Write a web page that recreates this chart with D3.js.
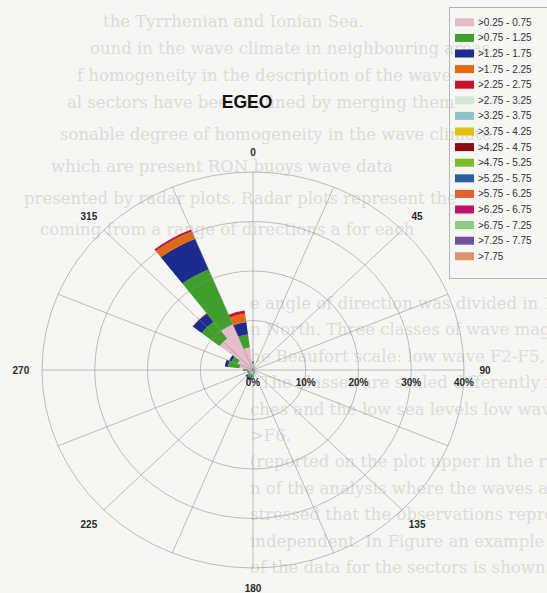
<!DOCTYPE html>
<html><head><meta charset="utf-8">
<script src="https://cdn.jsdelivr.net/npm/d3@7"></script>
<style>body{margin:0;background:#f6f6f4;}svg{display:block}</style>
</head><body>
<svg id="chart" width="547" height="593"></svg>
<script>
// ---- data ----
const directions = [0,15,30,45,60,75,90,105,120,135,150,165,180,195,210,225,240,255,270,285,300,315,330,345];
const classLabels = [">0.25 - 0.75",">0.75 - 1.25",">1.25 - 1.75",">1.75 - 2.25",">2.25 - 2.75",">2.75 - 3.25",">3.25 - 3.75",">3.75 - 4.25",">4.25 - 4.75",">4.75 - 5.25",">5.25 - 5.75",">5.75 - 6.25",">6.25 - 6.75",">6.75 - 7.25",">7.25 - 7.75",">7.75"];
const classColors = ["#e6bccb","#3f9f2a","#1c2b8c","#e2690f","#c7142c","#cfe9cf","#8fc3cb","#e6c10a","#8c0a14","#7cbc2a","#2d5f9e","#e0602e","#c2136c","#8ccb7c","#7052a2","#e0926e"];
// percentage of observations, per class, per direction (same order as directions)
const h050 = [1.2,0.6,0.4,0.3,0.3,0.3,0.3,0.3,0.3,0.4,0.5,0.6,0.8,0.9,0.9,0.8,0.6,0.6,0.9,2.6,3.2,8.0,10.0,4.6];
const h100 = [0.4,0.2,0.1,0.1,0.1,0.1,0.1,0.1,0.1,0.1,0.2,0.3,0.5,0.7,0.7,0.6,0.4,0.4,0.7,2.2,1.2,4.3,12.0,2.7];
const h150 = [0.1,0,0,0,0,0,0,0,0,0,0,0,0.2,0.4,0.5,0.4,0.1,0.1,0.2,0.6,0.5,2.1,6.7,2.5];
const h200 = [0,0,0,0,0,0,0,0,0,0,0,0,0,0,0,0,0,0,0,0,0,0.1,1.6,1.7];
const h250 = [0,0,0,0,0,0,0,0,0,0,0,0,0,0,0,0,0,0,0,0,0,0,0.4,0.6];
const hNone = [0,0,0,0,0,0,0,0,0,0,0,0,0,0,0,0,0,0,0,0,0,0,0,0];
const series = [h050,h100,h150,h200,h250,hNone,hNone,hNone,hNone,hNone,hNone,hNone,hNone,hNone,hNone,hNone];
const ringTicks = [10,20,30,40];
const ringLabels = ["0%","10%","20%","30%","40%"];
const dirLabels = [0,45,90,135,180,225,270,315];
const title = "EGEO";
const pageLinesTop = [
 "the Tyrrhenian and Ionian Sea.",
 "ound in the wave climate in neighbouring areas",
 "f homogeneity in the description of the wave",
 "al sectors have been defined by merging them",
 "sonable degree of homogeneity in the wave climate",
 "which are present RON buoys wave data",
 "presented by radar plots. Radar plots represent the",
 "coming from a range of directions a for each"];
const pageLinesBottom = [
 "e angle of direction was divided in 15 deg sectors w",
 "n North. Three classes of wave magnitudes have b",
 "he Beaufort scale: low wave F2-F5, moderate w",
 ". The classes are scaled differently in the Adriatic",
 "ches and the low sea levels low wave F2-F5, mod",
 ">F6.",
 "(reported on the plot upper in the right) are differe",
 "n of the analysis where the waves are on the averag",
 "stressed that the observations represented in th",
 "independent. In Figure   an example of radar p",
 "of the data for the sectors is shown."];

// ---- drawing ----
const svg = d3.select("#chart");
const cx = 253, cy = 370, R = 211, sy = 198/211;

// faint page text behind the figure
const bg = svg.append("g").attr("fill","#dcdcd9").attr("font-family","'DejaVu Serif', serif").attr("font-size",16.5);
const topX = [103,90,77,67,60,51,24,40];
const topY = [27,54,81,108,140,172,204,235];
pageLinesTop.forEach((t,i)=>bg.append("text").attr("x",topX[i]).attr("y",topY[i]).text(t));
pageLinesBottom.forEach((t,i)=>bg.append("text").attr("x",250).attr("y",309+i*26.4).text(t));

const r = d3.scaleLinear().domain([0,40]).range([0,R]);
const g = svg.append("g").attr("transform",`translate(${cx},${cy}) scale(1,${sy})`);

// stacked wedges
const stack = d3.stack().keys(d3.range(series.length)).value((d,k)=>series[k][d])(d3.range(directions.length));
const arc = d3.arc();
const toRad = d => d*Math.PI/180;
stack.forEach((layer,k)=>{
  g.append("g").selectAll("path").data(layer).join("path")
   .attr("d",(d,i)=> d[1]-d[0] > 0 ? arc({innerRadius:r(d[0]),outerRadius:r(d[1]),startAngle:toRad(directions[i]-7.5),endAngle:toRad(directions[i]+7.5)}) : null)
   .attr("fill",classColors[k]);
});

// grid
const grid = g.append("g").attr("fill","none").attr("stroke","#8a8a8a").attr("stroke-opacity",0.6);
grid.selectAll("circle").data(ringTicks).join("circle").attr("r",d=>r(d)).attr("stroke-width",0.9).attr("vector-effect","non-scaling-stroke");
grid.selectAll("line").data(d3.range(0,360,22.5)).join("line")
  .attr("x1",0).attr("y1",0)
  .attr("x2",d=>r(40)*Math.sin(toRad(d))).attr("y2",d=>-r(40)*Math.cos(toRad(d)))
  .attr("stroke-width",0.9).attr("vector-effect","non-scaling-stroke");

// labels
const lab = svg.append("g").attr("font-family","'Liberation Sans', Arial, sans-serif").attr("font-weight","bold").attr("font-size",10).attr("fill","#2a2a2a").attr("text-anchor","middle");
lab.selectAll("text.dir").data(dirLabels).join("text").attr("class","dir")
  .attr("x",d=>cx + r(44)*Math.sin(toRad(d)))
  .attr("y",d=>cy - r(44)*sy*Math.cos(toRad(d)) + 4)
  .text(d=>d);
lab.selectAll("text.pct").data(ringLabels).join("text").attr("class","pct")
  .attr("x",(d,i)=>cx + r(i*10)).attr("y",cy+16).text(d=>d);

svg.append("text").attr("x",247).attr("y",108).attr("text-anchor","middle")
  .attr("font-family","'Liberation Sans', Arial, sans-serif").attr("font-weight","bold").attr("font-size",17.5).attr("fill","#111").text(title);

// legend
const leg = svg.append("g");
leg.append("rect").attr("x",449.5).attr("y",7.5).attr("width",110).attr("height",271).attr("fill","none").attr("stroke","#b5b5b5");
classLabels.forEach((t,i)=>{
  const y = 22.3 + i*15.6;
  leg.append("rect").attr("x",455).attr("y",y-4).attr("width",19).attr("height",8).attr("fill",classColors[i]);
  leg.append("text").attr("x",478).attr("y",y+3.5).attr("font-family","'Liberation Sans', Arial, sans-serif").attr("font-size",10).attr("fill","#333").text(t);
});
</script>
</body></html>
